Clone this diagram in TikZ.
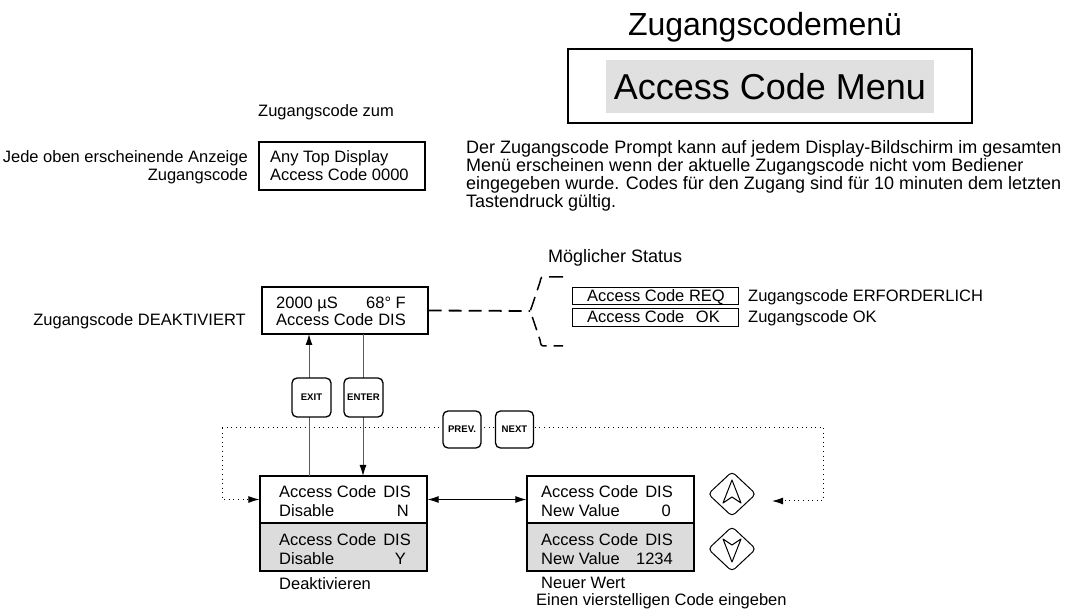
\documentclass[tikz,border=0pt]{standalone}
\usepackage{fontspec}
\setmainfont{Liberation Sans}
\usetikzlibrary{arrows.meta,shapes.geometric,calc}
\definecolor{boxgrey}{RGB}{220,220,220}
\definecolor{menugrey}{RGB}{224,224,224}
\definecolor{linegrey}{RGB}{90,90,90}
\begin{document}
\begin{tikzpicture}[x=1pt,y=-1pt,
  txt/.style={font=\fontsize{16.5}{18}\selectfont, inner sep=0pt, anchor=base west},
  txtr/.style={txt, anchor=base east},
  bigtxt/.style={txt, font=\fontsize{18}{18}\selectfont},
  box/.style={draw=black, line width=1.2pt, inner sep=0pt, rectangle},
  slim/.style={draw=black, line width=0.9pt, inner sep=0pt, rectangle},
  btn/.style={draw=black, line width=1.3pt, rounded corners=5pt, fill=white,
    font=\fontsize{9.6}{10}\selectfont\bfseries, inner sep=0pt,
    minimum width=38pt, minimum height=38pt},
  conn/.style={draw=linegrey, line width=1pt},
  tip/.style={-{Latex[length=11pt,width=7pt,black]}},
  dotline/.style={draw=black, line width=1pt, dash pattern=on 1pt off 3.6pt},
  dashline/.style={draw=black, line width=1.8pt, dash pattern=on 13pt off 7pt},
  keyshape/.style={diamond, draw=black, line width=1pt, rounded corners=4pt,
    minimum width=48pt, minimum height=45pt, inner sep=0pt}
]
\useasboundingbox (0,0) rectangle (1069,609);

% ---------- title ----------
\node[font=\fontsize{32}{34}\selectfont, inner sep=0pt, anchor=base] (title) at (765,36) {Zugangscodemenü};
\node[box, line width=1.4pt, minimum width=404pt, minimum height=74pt] (menubox) at (770,86) {};
\node[fill=menugrey, inner sep=0pt, minimum width=328pt, minimum height=53pt,
  font=\fontsize{36}{38}\selectfont] (menutext) at (770,86.5) {Access Code Menu};

% ---------- top display ----------
\node[txt] (zum) at (258,117) {Zugangscode zum};
\node[txtr] (jede) at (248,163) {Jede oben erscheinende Anzeige};
\node[txtr] (zug) at (248,181) {Zugangscode};
\node[box, minimum width=166pt, minimum height=48pt] (anytop) at (342,166) {};
\node[txt] (any1) at (270,163) {Any Top Display};
\node[txt] (any2) at (270,181) {Access Code 0000};

% ---------- paragraph ----------
\node[bigtxt] (p1) at (466,154) {Der Zugangscode Prompt kann auf jedem Display-Bildschirm im gesamten};
\node[bigtxt] (p2) at (466,172) {Menü erscheinen wenn der aktuelle Zugangscode nicht vom Bediener};
\node[bigtxt] (p3) at (466,190) {eingegeben wurde. Codes für den Zugang sind für 10 minuten dem letzten};
\node[bigtxt] (p4) at (466,208) {Tastendruck gültig.};

% ---------- status display ----------
\node[txtr] (deakt) at (246,326) {Zugangscode DEAKTIVIERT};
\node[box, minimum width=166pt, minimum height=47pt] (disp) at (345,310.5) {};
\node[txt] (d1) at (276,309) {2000 µS};
\node[txtr] (d2) at (406,309) {68° F};
\node[txt] (d3) at (276,326) {Access Code};
\node[txtr] (d4) at (406,326) {DIS};

\node[bigtxt] (moeg) at (548,263) {Möglicher Status};
\coordinate (br) at (530,311);
\draw[dashline] (disp.east) -- (br);
\draw[black, line width=1.5pt, dash pattern=on 14pt off 7pt]
  (563,277) -- (546,277) .. controls (541,277) .. (540,282) -- (532,306)
  .. controls (530,311) .. (532,316) -- (540,340) .. controls (541,346) .. (546,346) -- (563,346);

\node[slim, minimum width=166pt, minimum height=17pt] (req) at (655,295.5) {};
\node[txt] (req1) at (587,302) {Access Code};
\node[txtr] (req2) at (725,302) {REQ};
\node[txt] (req3) at (748,302) {Zugangscode ERFORDERLICH};
\node[slim, minimum width=166pt, minimum height=18pt] (ok) at (655,317) {};
\node[txt] (ok1) at (587,323) {Access Code};
\node[txtr] (ok2) at (720,323) {OK};
\node[txt] (ok3) at (748,323) {Zugangscode OK};

% ---------- lower displays ----------
\node[box, minimum width=167pt, minimum height=47pt] (lowLtop) at (343.5,499.5) {};
\node[box, fill=boxgrey, minimum width=167pt, minimum height=48pt] (lowLbot) at (343.5,547) {};
\node[txt] (l1) at (279,498) {Access Code};
\node[txtr] (l2) at (411,498) {DIS};
\node[txt] (l3) at (279,517) {Disable};
\node[txtr] (l4) at (409,517) {N};
\node[txt] (l5) at (279,546) {Access Code};
\node[txtr] (l6) at (411,546) {DIS};
\node[txt] (l7) at (279,565) {Disable};
\node[txtr] (l8) at (406,565) {Y};
\node[txt] (deak) at (279,589) {Deaktivieren};

\node[box, minimum width=167pt, minimum height=47pt] (lowRtop) at (610.5,499.5) {};
\node[box, fill=boxgrey, minimum width=167pt, minimum height=48pt] (lowRbot) at (610.5,547) {};
\node[txt] (r1) at (541,498) {Access Code};
\node[txtr] (r2) at (673,498) {DIS};
\node[txt] (r3) at (541,517) {New Value};
\node[txtr] (r4) at (671,517) {0};
\node[txt] (r5) at (541,546) {Access Code};
\node[txtr] (r6) at (673,546) {DIS};
\node[txt] (r7) at (541,565) {New Value};
\node[txtr] (r8) at (673,565) {1234};
\node[txt] (neu) at (541,588) {Neuer Wert};
\node[txt] (einen) at (536,605) {Einen vierstelligen Code eingeben};

% ---------- dotted navigation ----------
\coordinate (dl) at (222,428);
\coordinate (dr) at (823,428);
\coordinate (rt) at (772,501);
\draw[dotline] (dl) -- (dr);
\draw[dotline, tip] (dl) -- (dl |- lowLtop.west) -- (lowLtop.west);
\draw[dotline, tip] (dr) -- (dr |- rt) -- (rt);

% ---------- EXIT / ENTER connectors ----------
\draw[conn, tip] (309,476) -- (309,334);
\draw[conn, tip] (363,334) -- (363,476);
\draw[draw=black, line width=1pt, {Latex[length=11pt,width=7pt]}-{Latex[length=11pt,width=7pt]}] (lowLtop.east) -- (lowRtop.west);

% ---------- buttons ----------
\node[btn, minimum width=39pt, minimum height=39pt] (exit) at (311.5,397.5) {EXIT};
\node[btn, minimum width=39pt, minimum height=39pt] (enter) at (363.5,397.5) {ENTER};
\node[btn, minimum width=38pt, minimum height=37pt] (prev) at (462,429.5) {PREV.};
\node[btn, minimum width=38pt, minimum height=37pt] (next) at (514.5,429.5) {NEXT};

% ---------- arrow keys ----------
\node[keyshape] (up) at (732,494) {};
\node[keyshape] (down) at (732,549) {};
\draw[black, line width=1pt, line join=round]
  ($(up)+(0,-14)$) -- ($(up)+(-9,9)$) -- ($(up)+(0,3)$) -- ($(up)+(9,9)$) -- cycle;
\draw[black, line width=1pt, line join=round]
  ($(down)+(0,13)$) -- ($(down)+(-9,-10)$) -- ($(down)+(0,-4)$) -- ($(down)+(9,-10)$) -- cycle;
\end{tikzpicture}
\end{document}
